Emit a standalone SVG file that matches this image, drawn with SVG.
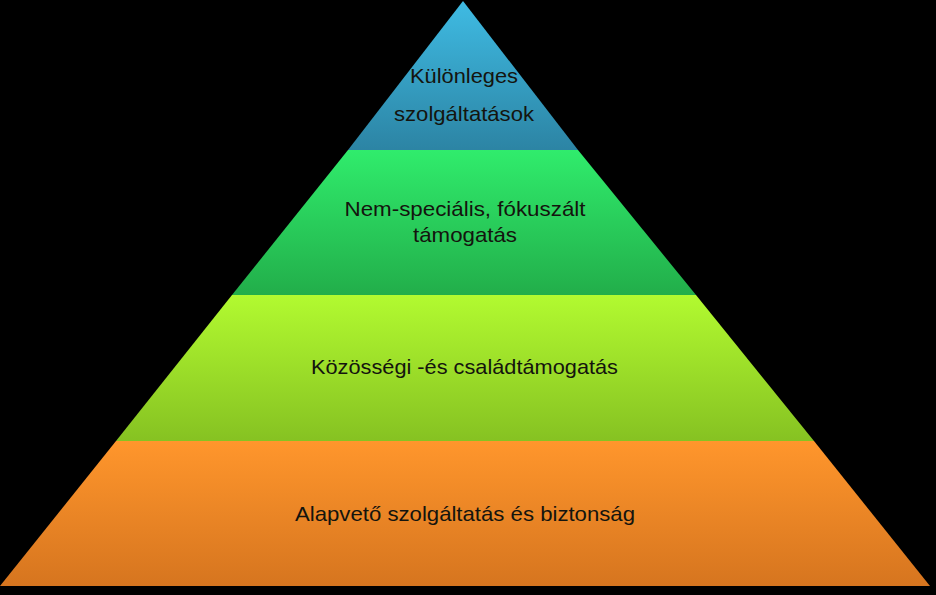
<svg xmlns="http://www.w3.org/2000/svg" width="936" height="595" viewBox="0 0 936 595">
<defs>
<linearGradient id="gBlue" x1="0" y1="0" x2="0" y2="1"><stop offset="0" stop-color="#3fbbe3"/><stop offset="1" stop-color="#2c84a4"/></linearGradient>
<linearGradient id="gGreen" x1="0" y1="0" x2="0" y2="1"><stop offset="0" stop-color="#30ec6c"/><stop offset="1" stop-color="#22ae4a"/></linearGradient>
<linearGradient id="gLime" x1="0" y1="0" x2="0" y2="1"><stop offset="0" stop-color="#b2fa30"/><stop offset="1" stop-color="#86c222"/></linearGradient>
<linearGradient id="gOrange" x1="0" y1="0" x2="0" y2="1"><stop offset="0" stop-color="#ff962c"/><stop offset="1" stop-color="#d6751f"/></linearGradient>
</defs>
<style>
text{font-family:"Liberation Sans","Open Sans",sans-serif;font-size:21px;fill:#14140e;text-anchor:middle}
</style>
<rect x="0" y="0" width="936" height="595" fill="#000"/>
<g id="tier4">
<polygon points="463,1 578,150 348,150" fill="url(#gBlue)"/>
<text x="464" y="83" textLength="108" lengthAdjust="spacingAndGlyphs">Különleges</text>
<text x="464" y="121" textLength="140" lengthAdjust="spacingAndGlyphs">szolgáltatások</text>
</g>
<g id="tier3">
<polygon points="348,150 578,150 696,295 232,295" fill="url(#gGreen)"/>
<text x="465" y="216" textLength="241" lengthAdjust="spacingAndGlyphs">Nem-speciális, fókuszált</text>
<text x="465" y="242" textLength="104" lengthAdjust="spacingAndGlyphs">támogatás</text>
</g>
<g id="tier2">
<polygon points="232,295 696,295 814,441 116,441" fill="url(#gLime)"/>
<text x="464.5" y="374" textLength="307" lengthAdjust="spacingAndGlyphs">Közösségi -és családtámogatás</text>
</g>
<g id="tier1">
<polygon points="116,441 814,441 930,586 0,586" fill="url(#gOrange)"/>
<text x="465" y="521" textLength="340" lengthAdjust="spacingAndGlyphs">Alapvető szolgáltatás és biztonság</text>
</g>
<g id="connectors"/>
</svg>
